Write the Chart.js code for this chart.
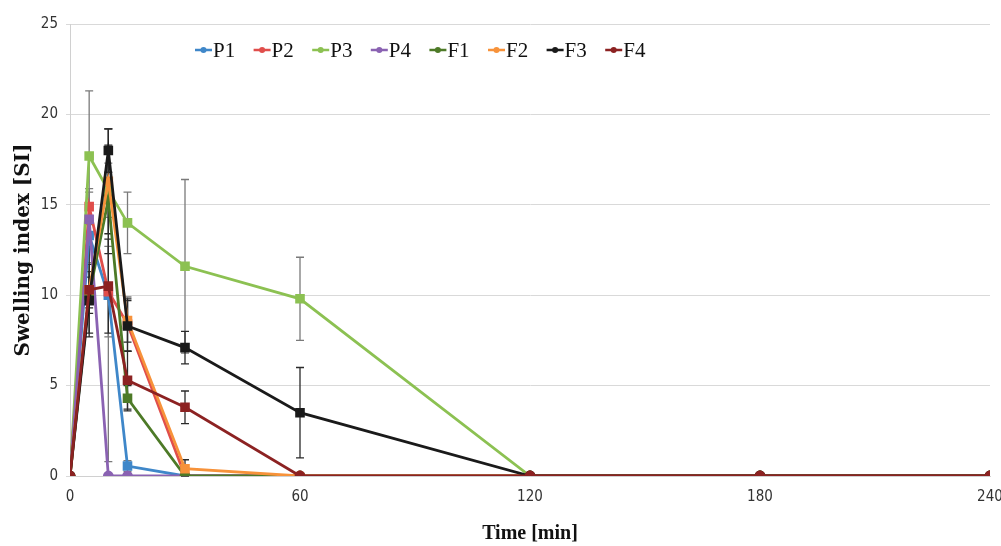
<!DOCTYPE html>
<html>
<head>
<meta charset="utf-8">
<script src="https://cdn.jsdelivr.net/npm/chart.js@4"></script>
<style>
  body { margin: 0; background: #fff; }
  #wrap { width: 1001px; height: 546px; }
</style>
</head>
<body>
<div id="wrap"><canvas id="swellChart" width="1001" height="546"></canvas></div>
<script>
// time points (min)
const times = [0, 5, 10, 15, 30, 60, 120, 180, 240];

// swelling index per formulation
const P1 = [0, 13.3, 10.0, 0.55, 0, 0, 0, 0, 0];
const P2 = [0, 14.9, 10.2, 8.4, 0, 0, 0, 0, 0];
const P3 = [0, 17.7, 15.8, 14.0, 11.6, 9.8, 0, 0, 0];
const P4 = [0, 14.2, 0, 0, 0, 0, 0, 0, 0];
const F1 = [0, 10.0, 15.3, 4.3, 0, 0, 0, 0, 0];
const F2 = [0, 10.3, 16.3, 8.6, 0.4, 0, 0, 0, 0];
const F3 = [0, 9.7, 18.0, 8.3, 7.1, 3.5, 0, 0, 0];
const F4 = [0, 10.3, 10.5, 5.3, 3.8, 0, 0, 0, 0];

// standard deviations (error bars)
const P1err = [0, 1.5, 9.2, 0.3, 0, 0, 0, 0, 0];
const P2err = [0, 1.0, 2.5, 1.5, 0, 0, 0, 0, 0];
const P3err = [0, 3.6, 1.5, 1.7, 4.8, 2.3, 0, 0, 0];
const P4err = [0, 1.5, 0, 0, 0, 0, 0, 0, 0];
const F1err = [0, 1.0, 3.0, 0.7, 0, 0, 0, 0, 0];
const F2err = [0, 1.0, 2.9, 1.2, 0.5, 0, 0, 0, 0];
const F3err = [0, 2.0, 1.2, 1.4, 0.9, 2.5, 0, 0, 0];
const F4err = [0, 2.4, 2.6, 1.6, 0.9, 0, 0, 0, 0];

const seriesNames = ["P1", "P2", "P3", "P4", "F1", "F2", "F3", "F4"];
const seriesValues = [P1, P2, P3, P4, F1, F2, F3, F4];
const seriesErrors = [P1err, P2err, P3err, P4err, F1err, F2err, F3err, F4err];
const seriesColors = ["#3f87c9", "#e04e4b", "#8cc152", "#8a62b2", "#4d7a27", "#f7923a", "#1a1a1a", "#8c2222"];
const errColors = ["#7a7a7a", "#7a7a7a", "#7a7a7a", "#7a7a7a", "#2a2a2a", "#2a2a2a", "#2a2a2a", "#2a2a2a"];

const yTicks = [0, 5, 10, 15, 20, 25];
const xTicks = [0, 60, 120, 180, 240];

const datasets = seriesNames.map((name, i) => ({
    label: name,
    data: times.map((t, k) => ({ x: t, y: seriesValues[i][k] })),
    borderColor: seriesColors[i],
    backgroundColor: seriesColors[i],
    borderWidth: 2.8,
    tension: 0,
    pointStyle: ctx => (ctx.raw && ctx.raw.y === 0) ? "circle" : "rect",
    pointRadius: ctx => (ctx.raw && ctx.raw.y === 0) ? 4 : 4.8,
    order: seriesNames.length - i
}));

// error bars drawn under the lines
const errorBars = {
    id: "errorBars",
    beforeDatasetsDraw(chart) {
        const ctx = chart.ctx;
        const xs = chart.scales.x, ys = chart.scales.y;
        ctx.save();
        ctx.lineWidth = 1.3;
        seriesValues.forEach((vals, i) => {
            ctx.strokeStyle = errColors[i];
            vals.forEach((v, k) => {
                const e = seriesErrors[i][k];
                if (!e) return;
                const px = xs.getPixelForValue(times[k]);
                const top = ys.getPixelForValue(v + e);
                const bot = ys.getPixelForValue(Math.max(v - e, 0));
                ctx.beginPath();
                ctx.moveTo(px, top); ctx.lineTo(px, bot);
                ctx.moveTo(px - 4, top); ctx.lineTo(px + 4, top);
                ctx.moveTo(px - 4, bot); ctx.lineTo(px + 4, bot);
                ctx.stroke();
            });
        });
        ctx.restore();
    }
};

// legend inside the plot, line with a dot like the original
const innerLegend = {
    id: "innerLegend",
    afterDraw(chart) {
        const ctx = chart.ctx;
        const area = chart.chartArea;
        const y = area.top + 26;
        let x = area.left + 125;
        ctx.save();
        ctx.font = "21px 'Liberation Serif', 'DejaVu Serif', serif";
        ctx.textBaseline = "middle";
        ctx.textAlign = "left";
        seriesNames.forEach((name, i) => {
            ctx.strokeStyle = seriesColors[i];
            ctx.fillStyle = seriesColors[i];
            ctx.lineWidth = 2.5;
            ctx.beginPath();
            ctx.moveTo(x, y); ctx.lineTo(x + 17, y);
            ctx.stroke();
            ctx.beginPath();
            ctx.arc(x + 8.5, y, 3, 0, Math.PI * 2);
            ctx.fill();
            ctx.fillStyle = "#111";
            ctx.fillText(name, x + 18, y + 1);
            x += 58.6;
        });
        ctx.restore();
    }
};

const tickFont = { family: "'Liberation Sans Narrow', 'DejaVu Sans Condensed', 'Liberation Sans', sans-serif", size: 15 };

new Chart(document.getElementById("swellChart"), {
    type: "line",
    data: { datasets: datasets },
    plugins: [errorBars, innerLegend],
    options: {
        responsive: false,
        animation: false,
        devicePixelRatio: 1,
        layout: { padding: { top: 24, right: 11, left: 0, bottom: 0 } },
        plugins: {
            legend: { display: false },
            tooltip: { enabled: false }
        },
        scales: {
            x: {
                type: "linear",
                min: 0,
                max: 240,
                afterBuildTicks: s => { s.ticks = xTicks.map(v => ({ value: v })); },
                afterFit: s => { s.height = 70; s.paddingRight = 0; s.paddingLeft = 0; },
                grid: { display: false, drawTicks: false },
                border: { display: true, color: "#d0d0d0" },
                ticks: { color: "#333", font: tickFont, padding: 12, maxRotation: 0 },
                title: {
                    display: true, text: "Time [min]", color: "#111",
                    font: { family: "'Liberation Serif', serif", size: 20, weight: "bold" },
                    padding: { top: 10, bottom: 0 }
                }
            },
            y: {
                min: 0,
                max: 25,
                afterBuildTicks: s => { s.ticks = yTicks.map(v => ({ value: v })); },
                afterFit: s => { s.width = 70; },
                grid: { color: "#d9d9d9", lineWidth: 1, drawTicks: true, tickLength: 4 },
                border: { display: true, color: "#d0d0d0" },
                ticks: { color: "#333", font: tickFont, padding: 8 },
                title: {
                    display: true, text: "Swelling index [SI]", color: "#111",
                    font: { family: "'DejaVu Serif', serif", size: 20, weight: "bold" },
                    padding: { top: 12, bottom: 4 }
                }
            }
        }
    }
});
</script>
</body>
</html>
